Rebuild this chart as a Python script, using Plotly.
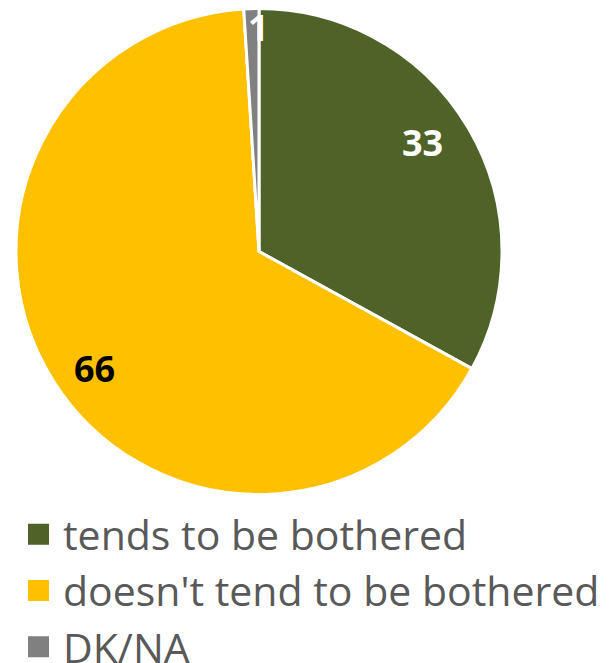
import math
import plotly.graph_objects as go

labels = ["tends to be bothered", "doesn't tend to be bothered", "DK/NA"]
values = [33, 66, 1]
colors = ["#4F6228", "#FFC000", "#808080"]
text_colors = ["white", "black", "white"]

# label placement (styling): radius fraction and angular nudge in degrees
label_r = [0.81, 0.83, 0.92]
label_nudge = [-3.0, -3.0, 1.8]

W, H = 614, 663
dom_x = [16 / W, 502 / W]
dom_y = [1 - 495 / H, 1 - 8 / H]

fig = go.Figure()
fig.add_trace(go.Pie(
    labels=labels,
    values=values,
    sort=False,
    direction="clockwise",
    rotation=0,
    marker=dict(colors=colors, line=dict(color="white", width=3)),
    textinfo="none",
    domain=dict(x=dom_x, y=dom_y),
    hoverinfo="label+value",
    showlegend=False,
))

# legend entries as square markers
for lab, col in zip(labels, colors):
    fig.add_trace(go.Scatter(
        x=[None], y=[None], mode="markers", name=lab,
        marker=dict(symbol="square", size=16, color=col, line=dict(color=col, width=5)),
        showlegend=True,
    ))

# data labels placed at slice angles computed from values
cx = (dom_x[0] + dom_x[1]) / 2 * W
cy = (1 - (dom_y[0] + dom_y[1]) / 2) * H
R = (dom_x[1] - dom_x[0]) * W / 2
total = sum(values)
cum = 0
for v, tc, rf, nd in zip(values, text_colors, label_r, label_nudge):
    mid = (cum + v / 2) / total * 360 + nd
    cum += v
    a = math.radians(mid)
    px = cx + rf * R * math.sin(a)
    py = cy - rf * R * math.cos(a)
    fig.add_annotation(
        x=px / W, y=1 - py / H, xref="paper", yref="paper",
        text=str(v), showarrow=False,
        font=dict(family="Open Sans, sans-serif", size=36, color=tc, weight="bold"),
        xanchor="center", yanchor="middle",
    )

fig.update_layout(
    width=W, height=H,
    margin=dict(l=0, r=0, t=0, b=0, autoexpand=False),
    paper_bgcolor="white",
    plot_bgcolor="white",
    xaxis=dict(visible=False),
    yaxis=dict(visible=False),
    showlegend=True,
    legend=dict(
        x=14 / W, xanchor="left",
        y=1 - 501 / H, yanchor="top",
        font=dict(family="Open Sans, sans-serif", size=41, color="#595959"),
        tracegroupgap=0,
        itemwidth=39,
        itemsizing="trace",
        bgcolor="rgba(0,0,0,0)",
    ),
)

fig.write_html("out.html", config={"displayModeBar": False},
               post_script="document.body.style.margin='0';")
